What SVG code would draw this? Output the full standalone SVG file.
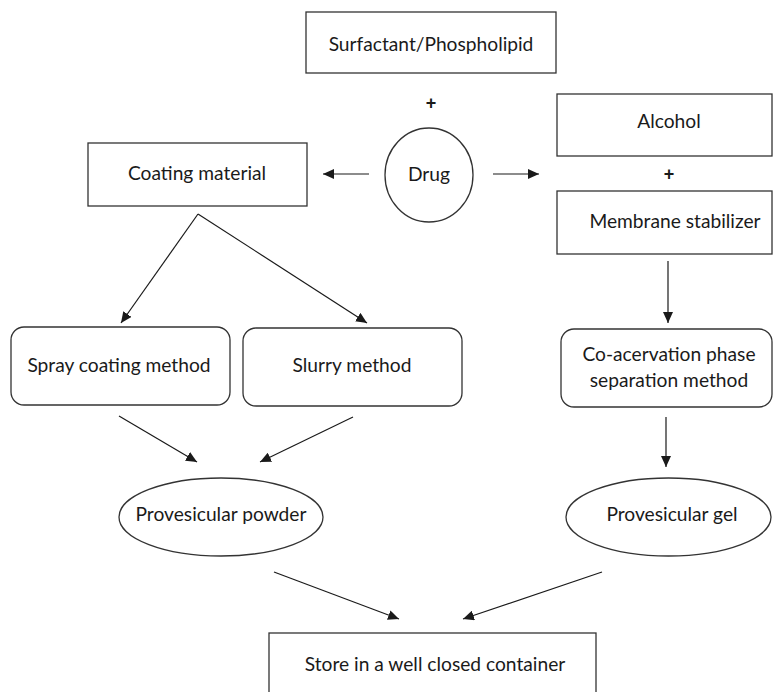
<svg xmlns="http://www.w3.org/2000/svg" width="773" height="692" viewBox="0 0 773 692">
  <defs>
    <marker id="arrow" markerUnits="userSpaceOnUse" markerWidth="12" markerHeight="10" refX="11" refY="5" orient="auto">
      <path d="M0,0 L11,5 L0,10 Z" fill="#1a1a1a"/>
    </marker>
    <style>
      .box { fill: #ffffff; stroke: #333333; stroke-width: 1.3; }
      .lbl { font-family: Lato, "Liberation Sans", sans-serif; font-size: 19.2px; fill: #1a1a1a; text-anchor: middle; }
      .plus { font-family: "Liberation Sans", sans-serif; font-size: 18px; font-weight: bold; fill: #1a1a1a; text-anchor: middle; }
      .conn line { stroke: #1a1a1a; stroke-width: 1.2; marker-end: url(#arrow); }
    </style>
  </defs>
  <rect width="773" height="692" fill="#ffffff"/>

  <g id="surfactant">
    <rect class="box" x="306" y="12" width="250" height="61"/>
    <text class="lbl" x="431" y="51">Surfactant/Phospholipid</text>
  </g>
  <g id="plus-top">
    <text class="plus" x="431" y="109">+</text>
  </g>
  <g id="drug">
    <ellipse class="box" cx="429" cy="175" rx="44" ry="47"/>
    <text class="lbl" x="429" y="181">Drug</text>
  </g>
  <g id="coating">
    <rect class="box" x="88" y="143" width="219" height="63"/>
    <text class="lbl" x="197" y="180">Coating material</text>
  </g>
  <g id="alcohol">
    <rect class="box" x="557" y="94" width="215" height="62"/>
    <text class="lbl" x="669" y="128">Alcohol</text>
  </g>
  <g id="plus-right">
    <text class="plus" x="669" y="180">+</text>
  </g>
  <g id="stabilizer">
    <rect class="box" x="557" y="191" width="215" height="63"/>
    <text class="lbl" x="675" y="228">Membrane stabilizer</text>
  </g>
  <g id="spray">
    <rect class="box" x="11" y="327" width="219" height="78" rx="13" ry="13"/>
    <text class="lbl" x="119" y="372">Spray coating method</text>
  </g>
  <g id="slurry">
    <rect class="box" x="243" y="328" width="219" height="78" rx="13" ry="13"/>
    <text class="lbl" x="352" y="372">Slurry method</text>
  </g>
  <g id="coacervation">
    <rect class="box" x="561" y="329" width="211" height="78" rx="13" ry="13"/>
    <text class="lbl" x="669" y="361">Co-acervation phase</text>
    <text class="lbl" x="669" y="387">separation method</text>
  </g>
  <g id="powder">
    <ellipse class="box" cx="221" cy="517" rx="102" ry="39"/>
    <text class="lbl" x="221" y="521">Provesicular powder</text>
  </g>
  <g id="gel">
    <ellipse class="box" cx="668.5" cy="517" rx="102.5" ry="39"/>
    <text class="lbl" x="672" y="521">Provesicular gel</text>
  </g>
  <g id="store">
    <rect class="box" x="269" y="633" width="327" height="70"/>
    <text class="lbl" x="435" y="671">Store in a well closed container</text>
  </g>

  <g id="connectors" class="conn">
    <line x1="369" y1="174" x2="323" y2="174"/>
    <line x1="493" y1="174" x2="539" y2="174"/>
    <line x1="198" y1="214" x2="121" y2="323"/>
    <line x1="198" y1="214" x2="367" y2="323"/>
    <line x1="668" y1="261" x2="668" y2="323"/>
    <line x1="119" y1="416" x2="197" y2="462"/>
    <line x1="353" y1="417" x2="260" y2="462"/>
    <line x1="666" y1="417" x2="666" y2="467"/>
    <line x1="274" y1="572" x2="399" y2="619"/>
    <line x1="602" y1="572" x2="463" y2="619"/>
  </g>
</svg>
